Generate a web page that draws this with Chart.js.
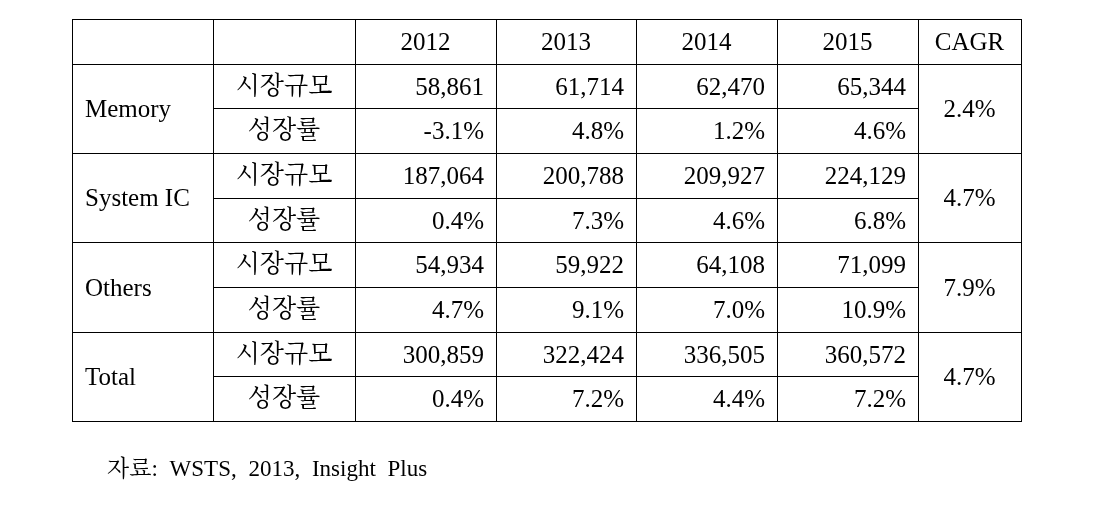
<!DOCTYPE html>
<html>
<head>
<meta charset="utf-8">
<script src="https://cdn.jsdelivr.net/npm/chart.js@4.4.1/dist/chart.umd.min.js"></script>
<style>
  html, body { margin: 0; padding: 0; background: #fff; }
  canvas { display: block; }
</style>
</head>
<body>
<canvas id="market_table" width="1102" height="510"></canvas>
<script>
// table contents
const years = ["2012", "2013", "2014", "2015"];
const segments = ["Memory", "System IC", "Others", "Total"];
const metrics = ["시장규모", "성장률"];

const memorySize = [58861, 61714, 62470, 65344];
const memoryGrowth = [-3.1, 4.8, 1.2, 4.6];
const systemSize = [187064, 200788, 209927, 224129];
const systemGrowth = [0.4, 7.3, 4.6, 6.8];
const othersSize = [54934, 59922, 64108, 71099];
const othersGrowth = [4.7, 9.1, 7.0, 10.9];
const totalSize = [300859, 322424, 336505, 360572];
const totalGrowth = [0.4, 7.2, 4.4, 7.2];
const cagr = [2.4, 4.7, 7.9, 4.7];

const source = "자료: WSTS, 2013, Insight Plus";

// layout: relative column widths, row count
const colWidths = [141, 142, 141, 140, 141, 141, 103];
const colEdges = [0];
colWidths.forEach(function (w) { colEdges.push(colEdges[colEdges.length - 1] + w); });
const rowCount = 1 + segments.length * metrics.length;

const sizes = [memorySize, systemSize, othersSize, totalSize];
const growths = [memoryGrowth, systemGrowth, othersGrowth, totalGrowth];

const FONT = '"Liberation Serif", "Noto Serif CJK KR", "Noto Sans CJK KR", serif';

function fmtSize(v) { return v.toLocaleString("en-US"); }
function fmtPct(v) { return v.toFixed(1) + "%"; }

const tablePlugin = {
  id: "tablePlugin",
  afterDraw: function (chart) {
    const ctx = chart.ctx;
    const xs = chart.scales.x;
    const ys = chart.scales.y;
    const X = function (v) { return xs.getPixelForValue(v); };
    const Y = function (v) { return ys.getPixelForValue(v); };
    const crisp = function (p) { return Math.round(p) + 0.5; };

    ctx.save();
    ctx.strokeStyle = "#000";
    ctx.lineWidth = 1;

    function hline(r, c0, c1) {
      ctx.beginPath();
      ctx.moveTo(crisp(X(colEdges[c0])) - 0.5, crisp(Y(r)));
      ctx.lineTo(crisp(X(colEdges[c1])) + 0.5, crisp(Y(r)));
      ctx.stroke();
    }
    function vline(c, r0, r1) {
      ctx.beginPath();
      ctx.moveTo(crisp(X(colEdges[c])), crisp(Y(r0)));
      ctx.lineTo(crisp(X(colEdges[c])), crisp(Y(r1)));
      ctx.stroke();
    }

    // horizontal lines
    hline(0, 0, 7);
    hline(1, 0, 7);
    segments.forEach(function (s, i) {
      const r = 1 + i * 2;
      hline(r + 1, 1, 6);
      hline(r + 2, 0, 7);
    });
    // vertical lines
    for (let c = 0; c <= 7; c++) vline(c, 0, rowCount);

    ctx.fillStyle = "#000";
    ctx.font = "25px " + FONT;
    ctx.textBaseline = "middle";

    function cellCenterY(r) { return (Y(r) + Y(r + 1)) / 2 + 2; }

    // header
    ctx.textAlign = "center";
    years.forEach(function (y, i) {
      ctx.fillText(y, (X(colEdges[i + 2]) + X(colEdges[i + 3])) / 2, cellCenterY(0));
    });
    ctx.fillText("CAGR", (X(colEdges[6]) + X(colEdges[7])) / 2, cellCenterY(0));

    segments.forEach(function (seg, i) {
      const r = 1 + i * 2;
      const midY = Y(r + 1) + 2;
      ctx.textAlign = "left";
      ctx.fillText(seg, X(colEdges[0]) + 13, midY);
      ctx.textAlign = "center";
      metrics.forEach(function (m, k) {
        ctx.fillText(m, (X(colEdges[1]) + X(colEdges[2])) / 2, cellCenterY(r + k) - 1);
      });
      ctx.textAlign = "right";
      for (let j = 0; j < years.length; j++) {
        const right = X(colEdges[j + 3]) - 12;
        ctx.fillText(fmtSize(sizes[i][j]), right, cellCenterY(r));
        ctx.fillText(fmtPct(growths[i][j]), right, cellCenterY(r + 1));
      }
      ctx.textAlign = "center";
      ctx.fillText(fmtPct(cagr[i]), (X(colEdges[6]) + X(colEdges[7])) / 2, midY);
    });

    // source note
    ctx.textAlign = "left";
    ctx.font = "23px " + FONT;
    ctx.wordSpacing = "6px";
    ctx.fillText(source, X(colEdges[0]) + 35, chart.chartArea.bottom + 49);
    ctx.restore();
  }
};

new Chart("market_table", {
  type: "scatter",
  data: { datasets: [{ data: [], pointRadius: 0 }] },
  options: {
    responsive: false,
    animation: false,
    devicePixelRatio: 1,
    layout: { padding: { left: 72, top: 19, right: 81, bottom: 89 } },
    plugins: { legend: { display: false }, tooltip: { enabled: false } },
    scales: {
      x: { type: "linear", min: 0, max: colEdges[colEdges.length - 1], display: false },
      y: { type: "linear", min: 0, max: rowCount, reverse: true, display: false }
    }
  },
  plugins: [tablePlugin]
});
</script>
</body>
</html>
